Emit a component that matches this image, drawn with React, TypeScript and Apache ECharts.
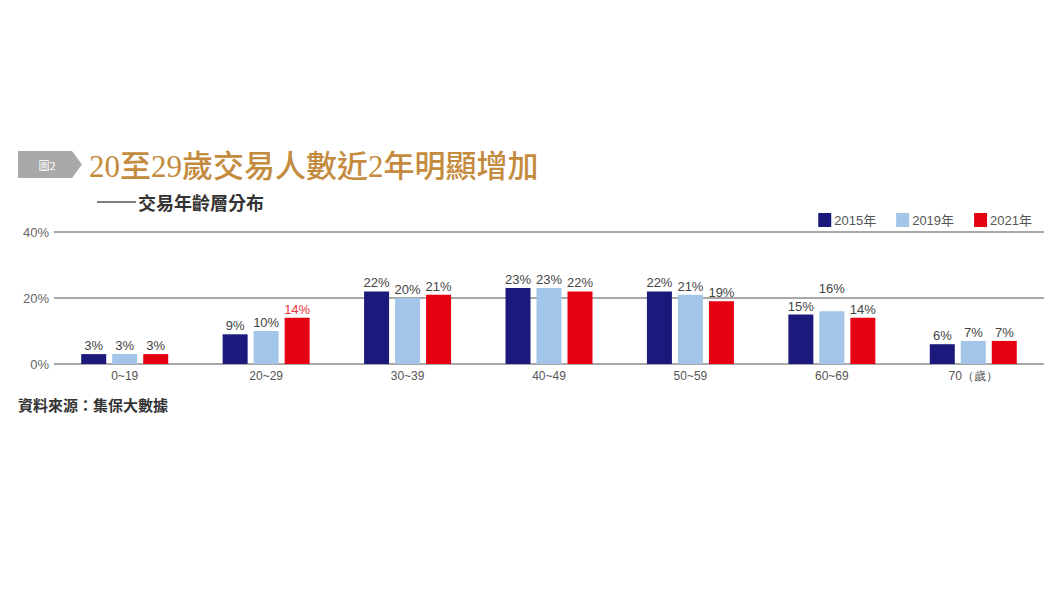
import React, { useEffect, useRef } from "react";
import * as echarts from "echarts";

const categories = ["0~19", "20~29", "30~39", "40~49", "50~59", "60~69", "70（歲）"];
const seriesNames = ["2015年", "2019年", "2021年"];
const values2015 = [3, 9, 22, 23, 22, 15, 6];
const values2019 = [3, 10, 20, 23, 21, 16, 7];
const values2021 = [3, 14, 21, 22, 19, 14, 7];
const yTicks = { min: 0, max: 40, interval: 20 };

const titleText = "20至29歲交易人數近2年明顯增加";
const subtitleText = "交易年齡層分布";
const sourceText = "資料來源：集保大數據";
const badgeText = "圖2";

const colors = ["#1B1A7C", "#A2C5E8", "#E50012"];
const NARROW = "'Liberation Sans Narrow', 'Arial Narrow', 'Liberation Sans', Arial, sans-serif";
const SANS = "'Liberation Sans', Arial, 'Noto Sans CJK TC', sans-serif";
const CJK = "'Noto Sans CJK TC', 'Noto Sans', sans-serif";

export default function App() {
  const ref = useRef<HTMLDivElement>(null);

  useEffect(() => {
    if (!ref.current) return;
    const chart = echarts.init(ref.current, undefined, { renderer: "svg" });

    const makeData = (vals: number[], si: number) =>
      vals.map((v, i) => {
        const item: any = { value: v };
        if (si === 1 && i === 5) item.label = { offset: [0, -14] };
        if (si === 2 && i === 1) item.label = { color: "#E8343C" };
        return item;
      });

    const allValues = [values2015, values2019, values2021];

    chart.setOption({
      animation: false,
      backgroundColor: "#ffffff",
      grid: { left: 54, right: 16, top: 232, height: 132 },
      legend: {
        right: 23,
        top: 208,
        itemWidth: 13,
        itemHeight: 14,
        itemGap: 20,
        icon: "rect",
        data: seriesNames,
        textStyle: { fontSize: 13, color: "#555", fontFamily: SANS, padding: [0, 0, 0, -2] },
      },
      xAxis: {
        type: "category",
        data: categories,
        axisLine: { show: false },
        axisTick: { show: false },
        axisLabel: { margin: 6, fontSize: 12, color: "#555", fontFamily: NARROW },
      },
      yAxis: {
        type: "value",
        min: yTicks.min,
        max: yTicks.max,
        interval: yTicks.interval,
        axisLine: { show: false },
        axisTick: { show: false },
        axisLabel: {
          formatter: "{value}%",
          margin: 5,
          fontSize: 13,
          color: "#666",
          fontFamily: NARROW,
        },
        splitLine: { lineStyle: { color: "#a8a8a8", width: 2 } },
      },
      series: allValues.map((vals, si) => ({
        name: seriesNames[si],
        type: "bar",
        barWidth: 25,
        barGap: "24%",
        itemStyle: { color: colors[si] },
        label: {
          show: true,
          position: "top",
          distance: 2,
          formatter: "{c}%",
          fontSize: 13,
          color: "#444",
          fontFamily: NARROW,
        },
        data: makeData(vals, si),
      })),
      graphic: [
        {
          type: "polygon",
          shape: { points: [[18, 151], [72, 151], [82, 164.5], [72, 178], [18, 178]] },
          style: { fill: "#A9A9A9" },
        },
        {
          type: "text",
          x: 47,
          y: 165,
          style: {
            text: badgeText,
            fill: "#fff",
            fontSize: 11,
            fontFamily: CJK,
            align: "center",
            verticalAlign: "middle",
          },
        },
        {
          type: "text",
          x: 89,
          y: 166,
          style: {
            text: titleText,
            fill: "#C48B3E",
            fontSize: 31,
            fontFamily: "'Liberation Serif', 'DejaVu Serif', " + CJK,
            fontWeight: 500,
            verticalAlign: "middle",
          },
        },
        {
          type: "line",
          shape: { x1: 97, y1: 202, x2: 136, y2: 202 },
          style: { stroke: "#555", lineWidth: 1.5 },
        },
        {
          type: "text",
          x: 138,
          y: 202,
          style: {
            text: subtitleText,
            fill: "#333",
            fontSize: 18,
            fontWeight: "bold",
            fontFamily: CJK,
            verticalAlign: "middle",
          },
        },
        {
          type: "text",
          x: 18,
          y: 404,
          style: {
            text: sourceText,
            fill: "#333",
            fontSize: 15,
            fontWeight: "bold",
            fontFamily: CJK,
            verticalAlign: "middle",
          },
        },
      ],
    });

    return () => chart.dispose();
  }, []);

  return (
    <div
      ref={ref}
      style={{ position: "fixed", left: 0, top: 0, width: 1060, height: 596, background: "#fff" }}
    />
  );
}
